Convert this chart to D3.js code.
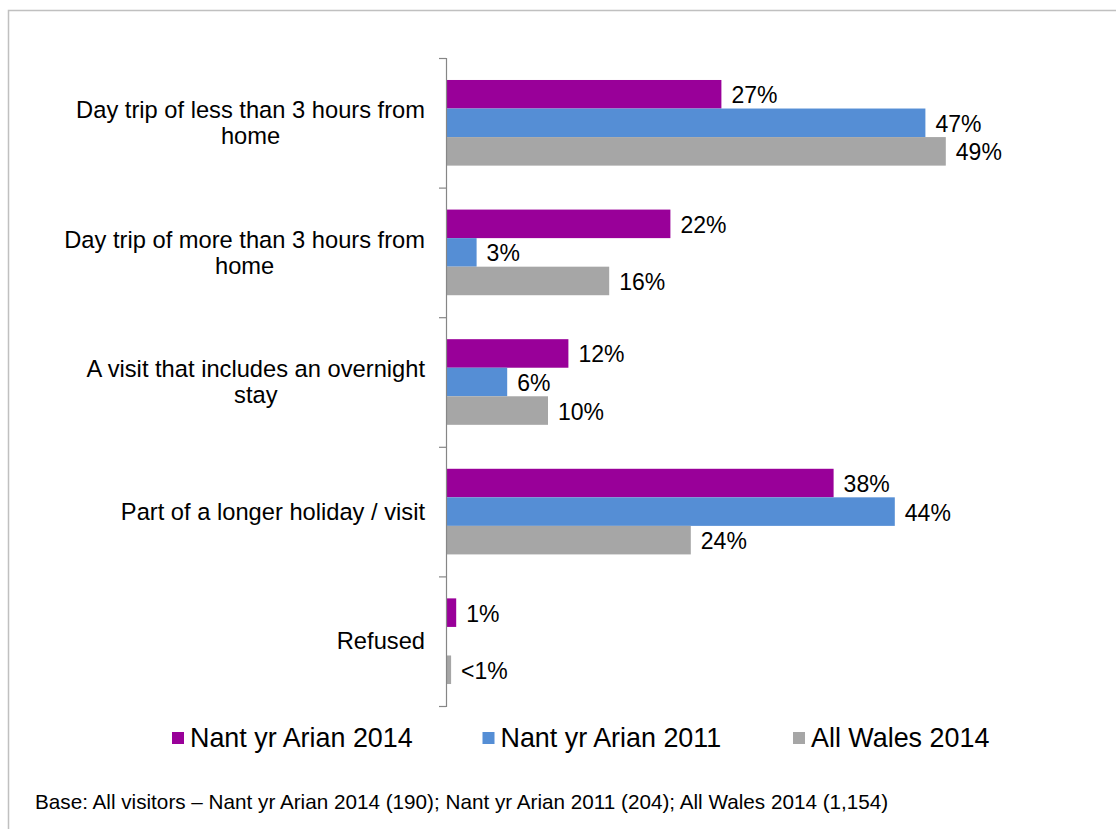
<!DOCTYPE html>
<html>
<head>
<meta charset="utf-8">
<script src="https://cdn.jsdelivr.net/npm/d3@7"></script>
<style>
  body { margin: 0; background: #fff; }
  text { font-family: "Liberation Sans", Arial, sans-serif; fill: #000; }
</style>
</head>
<body>
<div class="chart"></div>
<script>
// Data ---------------------------------------------------------------------
const categories = [
  ["Day trip of less than 3 hours from", "home"],
  ["Day trip of more than 3 hours from", "home"],
  ["A visit that includes an overnight", "stay"],
  ["Part of a longer holiday / visit"],
  ["Refused"]
];
const series = ["Nant yr Arian 2014", "Nant yr Arian 2011", "All Wales 2014"];
const colors = ["#990099", "#558ed5", "#a6a6a6"];
const nant2014 = [0.27, 0.22, 0.12, 0.38, 0.01];
const nant2011 = [0.47, 0.03, 0.06, 0.44, 0];
const wales2014 = [0.49, 0.16, 0.10, 0.24, 0.005];
const valueLabels = [
  ["27%", "22%", "12%", "38%", "1%"],
  ["47%", "3%", "6%", "44%", ""],
  ["49%", "16%", "10%", "24%", "<1%"]
];
const footnote = "Base: All visitors \u2013 Nant yr Arian 2014 (190); Nant yr Arian 2011 (204); All Wales 2014 (1,154)";

const values = [nant2014, nant2011, wales2014];

// SVG ---------------------------------------------------------------------
const width = 1116;
const height = 829;

const svg = d3.select(".chart")
  .append("svg")
  .attr("width", width)
  .attr("height", height);

// outer border (runs off the right and bottom edges)
svg.append("rect")
  .attr("x", 8.5)
  .attr("y", 10.5)
  .attr("width", width + 20)
  .attr("height", height + 20)
  .attr("fill", "none")
  .attr("stroke", "#c0c0c0")
  .attr("stroke-width", 1.5);

// Scales ---------------------------------------------------------------------
const xScale = d3.scaleLinear()
  .domain([0, 0.5])
  .range([446, 956]);

const yScale = d3.scaleBand()
  .domain(d3.range(categories.length))
  .range([58, 706])
  .padding(0);

const ySub = d3.scaleBand()
  .domain(d3.range(series.length))
  .range([0, yScale.bandwidth()])
  .paddingInner(0)
  .paddingOuter(0.77);

// Bars ---------------------------------------------------------------------
const groups = svg.selectAll(".group")
  .data(categories)
  .join("g")
  .attr("class", "group")
  .attr("transform", (d, i) => `translate(0,${yScale(i)})`);

series.forEach((s, si) => {
  groups.append("rect")
    .attr("x", xScale(0))
    .attr("y", ySub(si))
    .attr("width", (d, i) => xScale(values[si][i]) - xScale(0))
    .attr("height", ySub.bandwidth())
    .attr("fill", colors[si]);

  groups.append("text")
    .attr("x", (d, i) => xScale(values[si][i]) + 10)
    .attr("y", ySub(si) + ySub.bandwidth() / 2 + 1)
    .attr("dy", "0.35em")
    .attr("font-size", 23)
    .text((d, i) => valueLabels[si][i]);
});

// Axis ---------------------------------------------------------------------
const yAxis = d3.axisLeft(d3.scaleLinear().domain([0, categories.length]).range([58, 706]))
  .ticks(categories.length)
  .tickSize(7)
  .tickFormat("");

svg.append("g")
  .attr("class", "axis")
  .attr("transform", `translate(${xScale(0)},0)`)
  .call(yAxis)
  .call(g => g.selectAll("line, path").attr("stroke", "#868686").attr("stroke-width", 1.2));

// Category labels: lines centred on each other, block right-aligned ----------
const labelRight = 425;
groups.each(function (lines, i) {
  const g = d3.select(this);
  const lineH = 26;
  const cy = yScale.bandwidth() / 2;
  const t = g.append("text")
    .attr("font-size", 23.7)
    .attr("text-anchor", "middle");
  const spans = t.selectAll("tspan")
    .data(lines)
    .join("tspan")
    .attr("y", (d, j) => cy + (j - (lines.length - 1) / 2) * lineH)
    .attr("dy", "0.35em")
    .text(d => d);
  let maxW = 0;
  spans.each(function () { maxW = Math.max(maxW, this.getComputedTextLength()); });
  spans.attr("x", labelRight - maxW / 2);
});

// Legend ---------------------------------------------------------------------
const legend = svg.append("g")
  .attr("transform", "translate(172,738)");

const legendItems = legend.selectAll("g")
  .data(series)
  .join("g")
  .attr("transform", (d, i) => `translate(${i * 310.5},0)`);

legendItems.append("rect")
  .attr("x", 0)
  .attr("y", -6)
  .attr("width", 12)
  .attr("height", 12)
  .attr("fill", (d, i) => colors[i]);

legendItems.append("text")
  .attr("x", 18)
  .attr("dy", "0.35em")
  .attr("font-size", 26.9)
  .text(d => d);

// Footnote ---------------------------------------------------------------------
svg.append("text")
  .attr("x", 35)
  .attr("y", 802)
  .attr("dy", "0.35em")
  .attr("font-size", 20.7)
  .text(footnote);
</script>
</body>
</html>
